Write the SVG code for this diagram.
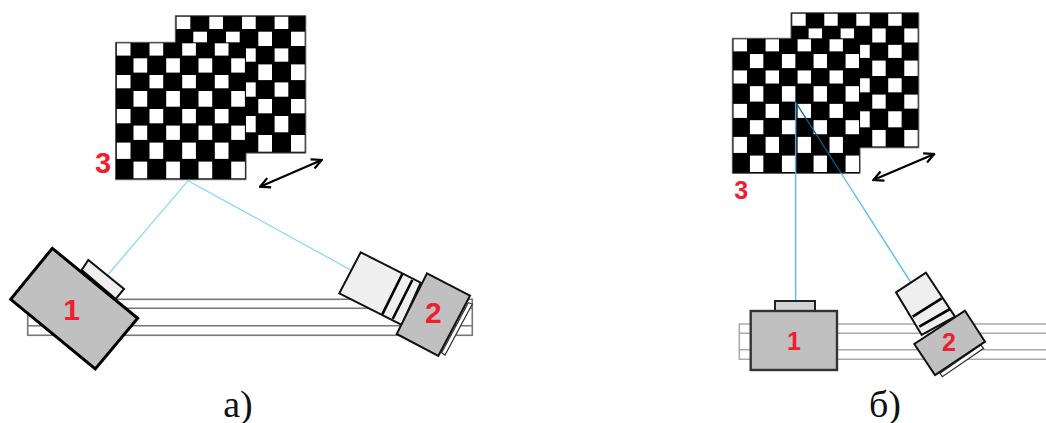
<svg xmlns="http://www.w3.org/2000/svg" xmlns:xlink="http://www.w3.org/1999/xlink" width="1046" height="423" viewBox="0 0 1046 423">
<style>
.w{fill:#fff}
.outline{fill:none;stroke:#555;stroke-width:1}
.rail{fill:#fff;stroke:#777;stroke-width:1.6}
.railr{fill:#fff;stroke:#aaa;stroke-width:1.6}
.body{fill:#c0c0c0;stroke:#000;stroke-width:3}
.body2{fill:#c0c0c0;stroke:#111;stroke-width:2}
.lens{fill:#efefef;stroke:#111;stroke-width:2}
.band{fill:none;stroke:#000;stroke-width:2.6}
.plate{fill:#fff;stroke:#333;stroke-width:1.2}
.ray{fill:none;stroke:#84d4f8;stroke-width:1.2}
.rayb{fill:none;stroke:#4db8f0;stroke-width:1.3}
.arr{fill:none;stroke:#000;stroke-width:2.2}
.num{font-family:"Liberation Sans",Arial,sans-serif;font-weight:700;fill:#ee2030;text-anchor:middle}
.cap{font-family:"Liberation Serif","Times New Roman",serif;font-size:38px;fill:#111;text-anchor:middle}
</style>
<defs>
<marker id="op" viewBox="0 0 12 12" refX="11" refY="6" markerWidth="12" markerHeight="12" markerUnits="userSpaceOnUse" orient="auto-start-reverse"><path d="M1 1 L11 6 L1 11" fill="none" stroke="#000" stroke-width="2.200"/></marker>
<g id="checker">
<rect fill="#000" width="130.5" height="137.4"/>
<rect class="w" x="1.3" y="1" width="13.7" height="12.3"/><rect class="w" x="34" y="1" width="13.7" height="12.3"/><rect class="w" x="66.7" y="1" width="13.7" height="12.3"/><rect class="w" x="99.3" y="1" width="13.7" height="12.3"/>
<rect class="w" x="18" y="16" width="13.7" height="14.3"/><rect class="w" x="50.7" y="16" width="13.7" height="14.3"/><rect class="w" x="83" y="16" width="13.7" height="14.3"/><rect class="w" x="115.7" y="16" width="13.7" height="14.3"/>
<rect class="w" x="1.3" y="32.7" width="13.7" height="13.3"/><rect class="w" x="34" y="32.7" width="13.7" height="13.3"/><rect class="w" x="66.7" y="32.7" width="13.7" height="13.3"/><rect class="w" x="99.3" y="32.7" width="13.7" height="13.3"/>
<rect class="w" x="18" y="48.7" width="13.7" height="15.7"/><rect class="w" x="50.7" y="48.7" width="13.7" height="15.7"/><rect class="w" x="83" y="48.7" width="13.7" height="15.7"/><rect class="w" x="115.7" y="48.7" width="13.7" height="15.7"/>
<rect class="w" x="1.3" y="66.7" width="13.7" height="14.3"/><rect class="w" x="34" y="66.7" width="13.7" height="14.3"/><rect class="w" x="66.7" y="66.7" width="13.7" height="14.3"/><rect class="w" x="99.3" y="66.7" width="13.7" height="14.3"/>
<rect class="w" x="18" y="83.3" width="13.7" height="14.3"/><rect class="w" x="50.7" y="83.3" width="13.7" height="14.3"/><rect class="w" x="83" y="83.3" width="13.7" height="14.3"/><rect class="w" x="115.7" y="83.3" width="13.7" height="14.3"/>
<rect class="w" x="1.3" y="100.3" width="13.7" height="16.3"/><rect class="w" x="34" y="100.3" width="13.7" height="16.3"/><rect class="w" x="66.7" y="100.3" width="13.7" height="16.3"/><rect class="w" x="99.3" y="100.3" width="13.7" height="16.3"/>
<rect class="w" x="18" y="119.3" width="13.7" height="16.7"/><rect class="w" x="50.7" y="119.3" width="13.7" height="16.7"/><rect class="w" x="83" y="119.3" width="13.7" height="16.7"/><rect class="w" x="115.7" y="119.3" width="13.7" height="16.7"/>
</g>
</defs>

<g id="rail-a"><rect class="rail" x="27.7" y="299.3" width="444.6" height="36"/><path class="rail" d="M27.7 308.3H472.3M27.7 325.7H472.3"/></g>
<g id="rail-b"><path class="railr" d="M1047 324H739.3V359.3H1047M739.3 333.3H1047M739.3 349.7H1047"/></g>

<g id="board-a">
<use href="#checker" xlink:href="#checker" x="175.3" y="15.7"/>
<use href="#checker" xlink:href="#checker" x="115.5" y="42.3"/>
<path class="outline" d="M115.5 42.3H175.3V15.7H305.8V153.100H246V179.700H115.500Z"/>
<text class="num" x="103" y="172.500" font-size="29">3</text>
</g>
<g id="board-b">
<use href="#checker" xlink:href="#checker" transform="translate(791 12.7) scale(.979 .983)"/>
<use href="#checker" xlink:href="#checker" transform="translate(732.3 38.3) scale(.979 .983)"/>
<path class="outline" d="M732.3 38.3H791V12.700H918.800V147.800H860V173.400H732.300Z"/>
</g>

<g id="connectors">
<path class="ray" d="M108.500 274L188 180.700L350.700 270"/>
<path class="rayb" d="M795.700 102.300V300.700"/>
<path d="M795.700 102.300L841 173" fill="none" stroke="#0b5f8a" stroke-width="1.300"/>
<path class="rayb" d="M841 173L911 282.700"/>
<path class="arr" d="M260 186.700L321.700 160" marker-start="url(#op)" marker-end="url(#op)"/>
<path class="arr" d="M873.300 180L934.300 154" marker-start="url(#op)" marker-end="url(#op)"/>
</g>

<g id="label-3b"><text class="num" x="741.300" y="198.500" font-size="25">3</text></g>

<g id="camera-1a">
<polygon class="lens" points="88.300,260 124,289 115.700,299 81.700,270" stroke-width="2.500"/>
<polygon class="body" points="52.300,248.300 137.700,318.300 95.300,369 10.700,299.300"/>
<text class="num" x="71.700" y="319.500" font-size="30">1</text>
</g>
<g id="camera-2a">
<polygon class="plate" points="468.300,302.700 472.300,304 445,355 441.700,352.700"/>
<polygon class="lens" points="360.700,252.300 420.700,282.700 401.700,325 339.300,293.300"/>
<path class="band" d="M402.300 274L382.300 314.300M412.300 280L392.700 319"/>
<polygon class="body2" points="427,273.300 470,295.700 438.300,356 396.700,334"/>
<text class="num" x="433.300" y="322.500" font-size="30">2</text>
</g>
<g id="camera-1b">
<rect x="775" y="301" width="40" height="10" fill="#d4d4d4" stroke="#222" stroke-width="2"/>
<rect x="750.700" y="311" width="86.300" height="59" fill="#c0c0c0" stroke="#333" stroke-width="2.400"/>
<text class="num" x="794" y="349.500" font-size="25">1</text>
</g>
<g id="camera-2b">
<polygon class="plate" points="980.700,345 983.700,348.300 942.300,376.700 940,373.300"/>
<polygon class="lens" points="926,272.700 955,316.700 921.700,335 896,292.300"/>
<path class="band" d="M941.700 298.300L912.700 316.700M950 309L919.300 326.700"/>
<polygon class="body2" points="965,310.700 985,341.700 935,375 914.300,344"/>
<text class="num" x="949" y="350.500" font-size="25">2</text>
</g>

<g id="captions">
<text class="cap" x="238" y="417">а)</text>
<text class="cap" x="885" y="417">б)</text>
</g>
</svg>
